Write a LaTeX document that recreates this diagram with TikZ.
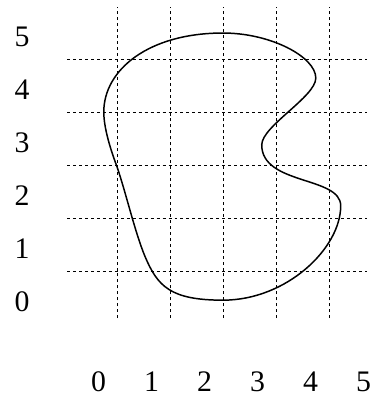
\documentclass[tikz,border=0pt]{standalone}
\usepackage{fontspec}
\setmainfont{Liberation Serif}
\usepackage{tikz}
\usetikzlibrary{positioning}

\begin{document}
\begin{tikzpicture}[
    gridline/.style={line width=0.5pt, dash pattern=on 1.6pt off 1.6pt},
    axlabel/.style={inner sep=0pt, font=\fontsize{16}{18}\selectfont},
]
\useasboundingbox (-2.208,-2.358) rectangle (4.792,5.113);
% Vertical grid lines
\draw[gridline] (0,-0.89) -- (0,4.98);
\draw[gridline] (1,-0.89) -- (1,4.98);
\draw[gridline] (2,-0.89) -- (2,4.98);
\draw[gridline] (3,-0.89) -- (3,4.98);
\draw[gridline] (4,-0.89) -- (4,4.98);
% Horizontal grid lines
\draw[gridline] (-0.94,0) -- (4.72,0);
\draw[gridline] (-0.94,1) -- (4.72,1);
\draw[gridline] (-0.94,2) -- (4.72,2);
\draw[gridline] (-0.94,3) -- (4.72,3);
\draw[gridline] (-0.94,4) -- (4.72,4);

% Left labels
\node[axlabel] (y0) at (-1.79,-0.58) {0};
\node[axlabel] (y1) at (-1.79,0.42) {1};
\node[axlabel] (y2) at (-1.79,1.42) {2};
\node[axlabel] (y3) at (-1.79,2.42) {3};
\node[axlabel] (y4) at (-1.79,3.42) {4};
\node[axlabel] (y5) at (-1.79,4.42) {5};
% Bottom labels
\node[axlabel] (x0) at (-0.35,-2.09) {0};
\node[axlabel] (x1) at (0.65,-2.09) {1};
\node[axlabel] (x2) at (1.65,-2.09) {2};
\node[axlabel] (x3) at (2.65,-2.09) {3};
\node[axlabel] (x4) at (3.65,-2.09) {4};
\node[axlabel] (x5) at (4.65,-2.09) {5};

% Closed curve
\draw[line width=0.8pt] (2.0,4.49)
    .. controls +(0.9,0) and +(0,0.4) .. (3.75,3.64)
    .. controls +(0,-0.35) and +(0,0.35) .. (2.73,2.38)
    .. controls +(0,-0.76) and +(0,0.56) .. (4.22,1.23)
    .. controls +(0,-0.8) and +(1.2,0) .. (2.0,-0.55)
    .. controls +(-1.0,0) and +(0.235,-0.553) .. (0.53,0.27)
    .. controls +(-0.195,0.46) and +(0.171,-0.47) .. (-0.02,2.02)
    .. controls +(-0.103,0.28) and +(0,-0.3) .. (-0.25,3.0)
    .. controls +(0,0.8) and +(-1.4,0) .. (2.0,4.49) -- cycle;
\end{tikzpicture}
\end{document}
